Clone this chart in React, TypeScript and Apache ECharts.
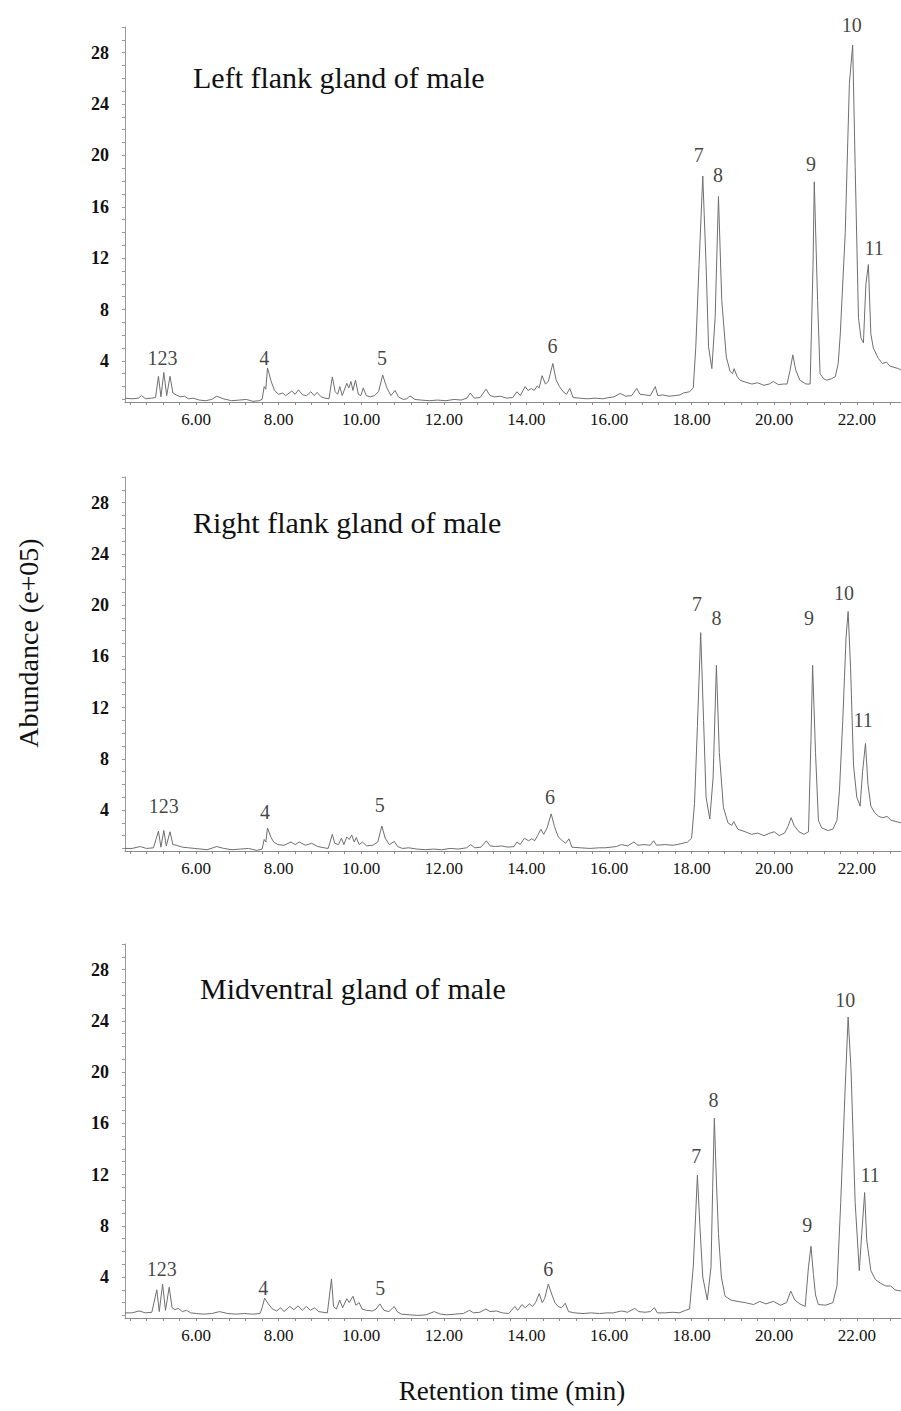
import React, { useEffect, useRef } from "react";
import * as echarts from "echarts";

// ---- tick labels ----
const xTickLabels = [6, 8, 10, 12, 14, 16, 18, 20, 22];
const yTickLabels = [4, 8, 12, 16, 20, 24, 28];

// ---- panel titles ----
const panelTitles = ["Left flank gland of male", "Right flank gland of male", "Midventral gland of male"];
const peakNames = ["123", "4", "5", "6", "7", "8", "9", "10", "11"];

// ---- chromatogram traces: [retention time (min), abundance (e+05)] ----
const leftFlank: [number, number][] = [
  [4.28, 1.1], [4.45, 1.05], [4.6, 1.1], [4.68, 1.3], [4.78, 1.05], [4.92, 1.1], [5.02, 1.15],
  [5.09, 2.8], [5.15, 1.2], [5.22, 3.1], [5.29, 1.3], [5.37, 2.8], [5.44, 1.5], [5.52, 1.35], [5.62, 1.2], [5.72, 1.25],
  [5.82, 1.05], [5.93, 1.1], [6.08, 0.95], [6.23, 0.9], [6.38, 1.0], [6.5, 1.25], [6.66, 1.05], [6.86, 0.9], [7.05, 0.95],
  [7.22, 1.0], [7.38, 0.85], [7.52, 0.9], [7.6, 1.0],
  [7.65, 2.0], [7.69, 1.8], [7.73, 3.45], [7.82, 2.4], [7.9, 1.7], [8.0, 1.4], [8.1, 1.5], [8.17, 1.3], [8.32, 1.65],
  [8.4, 1.4], [8.48, 1.75], [8.58, 1.35], [8.68, 1.3], [8.78, 1.6], [8.86, 1.3], [8.93, 1.55], [9.03, 1.2], [9.12, 1.1], [9.22, 1.05],
  [9.3, 2.75], [9.37, 1.6], [9.43, 1.4], [9.48, 2.0], [9.54, 1.3], [9.65, 2.25], [9.7, 1.9], [9.75, 2.4], [9.8, 1.7],
  [9.86, 2.5], [9.93, 1.4], [9.99, 1.3], [10.05, 1.9], [10.12, 1.3], [10.22, 1.2], [10.32, 1.3], [10.42, 1.6],
  [10.52, 2.9], [10.62, 1.9], [10.72, 1.3], [10.82, 1.7], [10.9, 1.2], [11.02, 1.0], [11.1, 1.05], [11.18, 1.27], [11.3, 1.0],
  [11.45, 0.95], [11.65, 0.9], [11.85, 0.95], [12.05, 0.9], [12.25, 1.0], [12.42, 0.95], [12.56, 1.1], [12.64, 1.5],
  [12.74, 1.1], [12.88, 1.15], [13.02, 1.8], [13.12, 1.3], [13.22, 1.2], [13.37, 1.25], [13.52, 1.1], [13.67, 1.15],
  [13.77, 1.6], [13.85, 1.3], [13.97, 2.0], [14.04, 1.7], [14.12, 1.85], [14.19, 1.7], [14.26, 2.05], [14.31, 1.9],
  [14.38, 2.85], [14.46, 2.2], [14.53, 2.4],
  [14.64, 3.8], [14.72, 2.5], [14.8, 2.0], [14.89, 1.6], [14.97, 1.4], [15.05, 1.85], [15.13, 1.15], [15.28, 1.1],
  [15.48, 1.05], [15.66, 1.1], [15.85, 1.05],
  [16.0, 1.15], [16.12, 1.2], [16.27, 1.47], [16.4, 1.25], [16.55, 1.3], [16.67, 1.86], [16.75, 1.4], [16.88, 1.35],
  [17.0, 1.3], [17.12, 2.0], [17.18, 1.3], [17.3, 1.35], [17.45, 1.25], [17.6, 1.3], [17.72, 1.35], [17.8, 1.5],
  [17.95, 1.6], [18.04, 1.9], [18.1, 5.0], [18.18, 11.5], [18.27, 18.4], [18.35, 11.5], [18.41, 5.1], [18.49, 3.4],
  [18.57, 7.4], [18.65, 16.8], [18.73, 8.7], [18.84, 4.3], [18.93, 3.2], [18.99, 3.0], [19.03, 3.4], [19.1, 2.8],
  [19.17, 2.5], [19.3, 2.35], [19.46, 2.2], [19.6, 2.3], [19.75, 2.1], [19.88, 2.2], [19.98, 2.4], [20.1, 2.15],
  [20.22, 2.2], [20.31, 2.2], [20.38, 3.2], [20.45, 4.47], [20.52, 3.3], [20.62, 2.5], [20.77, 2.2], [20.87, 2.2],
  [20.94, 11.5], [20.97, 17.95], [21.05, 8.7], [21.11, 3.0], [21.2, 2.6], [21.27, 2.5], [21.38, 2.6], [21.48, 2.77],
  [21.55, 3.8], [21.6, 6.1], [21.72, 14.0], [21.82, 25.6], [21.9, 28.6], [21.96, 19.15], [22.04, 7.4], [22.1, 5.8],
  [22.16, 5.4], [22.22, 10.0], [22.28, 11.5], [22.34, 6.1], [22.4, 5.0], [22.52, 4.2], [22.62, 3.8], [22.72, 3.9],
  [22.8, 3.6], [22.9, 3.5], [23.01, 3.4], [23.07, 3.3],
];

const rightFlank: [number, number][] = [
  [4.28, 1.0], [4.45, 1.0], [4.65, 1.15], [4.8, 1.0], [4.97, 1.05],
  [5.09, 2.35], [5.15, 1.1], [5.22, 2.4], [5.28, 1.2], [5.37, 2.3], [5.44, 1.3], [5.52, 1.25], [5.67, 1.1], [5.82, 1.05],
  [5.97, 1.0], [6.12, 0.95], [6.27, 0.9], [6.5, 1.15], [6.67, 1.0], [6.87, 0.9], [7.07, 0.95], [7.27, 1.0], [7.47, 0.85], [7.6, 0.95],
  [7.65, 1.7], [7.69, 1.5], [7.73, 2.6], [7.81, 1.9], [7.88, 1.5], [7.98, 1.3], [8.13, 1.25], [8.3, 1.5], [8.4, 1.3],
  [8.5, 1.5], [8.65, 1.25], [8.8, 1.4], [8.95, 1.15], [9.1, 1.05], [9.2, 1.0],
  [9.3, 2.1], [9.36, 1.4], [9.45, 1.3], [9.52, 1.8], [9.58, 1.3], [9.65, 1.9], [9.71, 1.7], [9.77, 2.05], [9.83, 1.5],
  [9.88, 1.85], [9.95, 1.3], [10.03, 1.5], [10.13, 1.2], [10.28, 1.25], [10.4, 1.5],
  [10.5, 2.75], [10.58, 1.8], [10.68, 1.3], [10.8, 1.55], [10.88, 1.15], [11.0, 1.0], [11.15, 1.05], [11.35, 0.95],
  [11.55, 0.9], [11.75, 0.95], [11.95, 0.9], [12.15, 1.0], [12.35, 0.95], [12.55, 1.05], [12.65, 1.3], [12.75, 1.05],
  [12.9, 1.1], [13.03, 1.6], [13.12, 1.2], [13.25, 1.15], [13.4, 1.2], [13.55, 1.1], [13.7, 1.15],
  [13.77, 1.5], [13.85, 1.3], [13.95, 1.8], [14.05, 1.6], [14.13, 1.75], [14.2, 1.6], [14.27, 2.0], [14.35, 2.5],
  [14.42, 2.1], [14.5, 2.6],
  [14.6, 3.7], [14.68, 2.7], [14.77, 1.9], [14.87, 1.6], [14.95, 1.4], [15.03, 1.75], [15.1, 1.1], [15.3, 1.05],
  [15.55, 1.0], [15.75, 1.05], [15.9, 1.05],
  [16.05, 1.1], [16.18, 1.15], [16.3, 1.3], [16.45, 1.2], [16.6, 1.5], [16.7, 1.25], [16.85, 1.3], [17.0, 1.25],
  [17.08, 1.6], [17.15, 1.25], [17.35, 1.3], [17.55, 1.25], [17.72, 1.35], [17.9, 1.5], [18.0, 1.8], [18.07, 4.5],
  [18.14, 10.5], [18.22, 17.85], [18.29, 11.0], [18.35, 5.0], [18.44, 3.3], [18.52, 6.5], [18.6, 15.3], [18.67, 8.5],
  [18.77, 4.2], [18.88, 3.0], [18.97, 2.8], [19.02, 3.1], [19.12, 2.5], [19.3, 2.3], [19.45, 2.1], [19.6, 2.2],
  [19.75, 2.0], [19.9, 2.2], [20.0, 2.3], [20.12, 2.0], [20.25, 2.2], [20.33, 2.7], [20.41, 3.4], [20.48, 2.8],
  [20.6, 2.3], [20.72, 2.1], [20.83, 2.3], [20.89, 9.5], [20.93, 15.3], [21.0, 8.5], [21.07, 3.2], [21.15, 2.6],
  [21.3, 2.4], [21.42, 2.5], [21.52, 3.2], [21.58, 5.5], [21.66, 11.0], [21.74, 17.5], [21.79, 19.5], [21.85, 15.0],
  [21.92, 7.5], [22.0, 5.0], [22.08, 4.3], [22.14, 7.0], [22.21, 9.2], [22.27, 6.0], [22.34, 4.3], [22.43, 3.8],
  [22.53, 3.5], [22.63, 3.4], [22.73, 3.5], [22.83, 3.2], [22.95, 3.1], [23.07, 3.0],
];

const midventral: [number, number][] = [
  [4.28, 1.2], [4.45, 1.2], [4.62, 1.35], [4.78, 1.2], [4.93, 1.25],
  [5.05, 3.0], [5.11, 1.3], [5.19, 3.45], [5.26, 1.4], [5.35, 3.2], [5.42, 1.6], [5.49, 1.45], [5.57, 1.55], [5.67, 1.3],
  [5.77, 1.4], [5.87, 1.2], [6.02, 1.15], [6.18, 1.1], [6.38, 1.15], [6.57, 1.3], [6.77, 1.15], [6.97, 1.1], [7.17, 1.15],
  [7.37, 1.1], [7.55, 1.15],
  [7.6, 1.6], [7.66, 2.35], [7.75, 1.9], [7.85, 1.5], [7.95, 1.35], [8.05, 1.6], [8.13, 1.3], [8.27, 1.7], [8.37, 1.45],
  [8.47, 1.75], [8.57, 1.4], [8.67, 1.7], [8.77, 1.4], [8.87, 1.6], [8.97, 1.3], [9.07, 1.25], [9.18, 1.2],
  [9.28, 3.85], [9.33, 1.7], [9.4, 1.5], [9.48, 2.2], [9.55, 1.6], [9.65, 2.3], [9.71, 2.0], [9.8, 2.5], [9.87, 1.8],
  [9.95, 2.0], [10.02, 1.5], [10.12, 1.4], [10.27, 1.35], [10.36, 1.5],
  [10.45, 1.9], [10.55, 1.4], [10.67, 1.3], [10.8, 1.7], [10.87, 1.3], [10.97, 1.1], [11.17, 1.05], [11.37, 1.0],
  [11.57, 1.05], [11.77, 1.3], [11.92, 1.1], [12.07, 1.05], [12.27, 1.1], [12.47, 1.15], [12.62, 1.4], [12.72, 1.2],
  [12.87, 1.25], [13.02, 1.5], [13.12, 1.3], [13.27, 1.35], [13.42, 1.2], [13.57, 1.15],
  [13.72, 1.7], [13.79, 1.4], [13.89, 1.85], [13.97, 1.6], [14.07, 1.9], [14.15, 1.7], [14.22, 2.0], [14.31, 2.7],
  [14.38, 2.0], [14.44, 2.3],
  [14.53, 3.45], [14.62, 2.6], [14.69, 2.0], [14.77, 1.7], [14.85, 1.6], [14.94, 1.95], [15.02, 1.3], [15.17, 1.2],
  [15.37, 1.15], [15.57, 1.2], [15.77, 1.15], [15.95, 1.2],
  [16.1, 1.2], [16.3, 1.35], [16.45, 1.25], [16.62, 1.55], [16.72, 1.3], [16.87, 1.25], [17.0, 1.3], [17.1, 1.6],
  [17.17, 1.2], [17.35, 1.2], [17.55, 1.25], [17.7, 1.2], [17.85, 1.4], [17.95, 1.5], [18.04, 4.8], [18.1, 9.0],
  [18.14, 11.95], [18.2, 8.0], [18.27, 4.0], [18.38, 2.2], [18.47, 4.8], [18.51, 11.0], [18.55, 16.4], [18.6, 11.5],
  [18.65, 7.4], [18.72, 4.0], [18.81, 2.5], [18.95, 2.2], [19.1, 2.1], [19.3, 2.0], [19.5, 1.85], [19.65, 2.1],
  [19.8, 1.9], [19.98, 2.1], [20.15, 1.8], [20.3, 2.0], [20.4, 2.9], [20.5, 2.2], [20.62, 1.9], [20.75, 1.7],
  [20.83, 4.8], [20.89, 6.4], [20.95, 4.2], [21.0, 2.6], [21.07, 1.85], [21.25, 1.8], [21.42, 2.0], [21.52, 3.3],
  [21.61, 9.8], [21.72, 18.9], [21.79, 24.3], [21.86, 20.2], [21.96, 9.8], [22.06, 4.5], [22.12, 7.4], [22.19, 10.6],
  [22.24, 6.9], [22.34, 4.5], [22.45, 3.8], [22.58, 3.5], [22.7, 3.3], [22.82, 3.3], [22.92, 3.0], [23.07, 2.9],
];

// ---- peak label anchor positions [time, abundance] per panel ----
const leftFlankLabels: [number, number][] = [
  [5.19, 4.23], [7.65, 4.23], [10.5, 4.23], [14.63, 5.17], [18.17, 20.05], [18.64, 18.5], [20.89, 19.35], [21.88, 30.19], [22.42, 12.8],
];
const rightFlankLabels: [number, number][] = [
  [5.22, 4.32], [7.67, 3.85], [10.45, 4.39], [14.57, 5.0], [18.13, 20.1], [18.6, 19.0], [20.84, 19.0], [21.69, 20.97], [22.15, 11.0],
];
const midventralLabels: [number, number][] = [
  [5.17, 4.6], [7.63, 3.12], [10.46, 3.12], [14.53, 4.6], [18.11, 13.41], [18.53, 17.84], [20.8, 8.07], [21.72, 25.66], [22.32, 11.98],
];

const traces = [leftFlank, rightFlank, midventral];
const labelSets = [leftFlankLabels, rightFlankLabels, midventralLabels];

const X_MIN = 4.28;
const X_MAX = 23.07;
const Y_MIN = 0.8;
const Y_MAX = 30;
const SERIF = "'Liberation Serif', 'Times New Roman', serif";

const gridTops = [27, 477, 944];
const gridHeights = [375, 374, 374];
const titlePos = [
  [193, 77],
  [193, 522],
  [200, 988],
];

const xMinorTicks: number[] = [];
for (let i = 0; i <= 47; i++) {
  const v = Math.round((4.4 + i * 0.4) * 100) / 100;
  if (v <= X_MAX) xMinorTicks.push(v);
}
const yMinorTicks: number[] = [];
for (let i = 1; i <= 30; i++) yMinorTicks.push(i);

export default function App() {
  const ref = useRef<HTMLDivElement>(null);

  useEffect(() => {
    if (!ref.current) return;
    const chart = echarts.init(ref.current, undefined, { renderer: "svg" });

    const grid = gridTops.map((top, i) => ({ left: 125, top, width: 776, height: gridHeights[i] }));

    const xAxis = gridTops.map((_, i) => ({
      type: "value",
      gridIndex: i,
      min: X_MIN,
      max: X_MAX,
      axisLine: { show: true, lineStyle: { color: "#8a8a8a", width: 1 } },
      axisTick: { show: true, customValues: xMinorTicks, length: 3, lineStyle: { color: "#8a8a8a" } },
      axisLabel: {
        customValues: xTickLabels,
        formatter: (v: number) => v.toFixed(2),
        fontFamily: SERIF,
        fontSize: 17,
        color: "#111",
        margin: 9,
      },
      splitLine: { show: false },
    }));

    const yAxis = gridTops.map((_, i) => ({
      type: "value",
      gridIndex: i,
      min: Y_MIN,
      max: Y_MAX,
      axisLine: { show: true, lineStyle: { color: "#9a9a9a", width: 1 } },
      axisTick: { show: true, customValues: yMinorTicks, length: 3, lineStyle: { color: "#9a9a9a" } },
      axisLabel: {
        customValues: yTickLabels,
        fontFamily: SERIF,
        fontSize: 18,
        fontWeight: "bold",
        color: "#111",
        margin: 16,
      },
      splitLine: { show: false },
    }));

    const series: any[] = [];
    traces.forEach((data, i) => {
      series.push({
        type: "line",
        xAxisIndex: i,
        yAxisIndex: i,
        data,
        showSymbol: false,
        symbol: "none",
        silent: true,
        lineStyle: { color: "#6f6f6f", width: 1 },
      });
      series.push({
        type: "scatter",
        xAxisIndex: i,
        yAxisIndex: i,
        clip: false,
        silent: true,
        symbolSize: 1,
        itemStyle: { color: "rgba(0,0,0,0)" },
        data: labelSets[i].map((p, k) => ({ name: peakNames[k], value: p })),
        label: {
          show: true,
          position: "inside",
          formatter: "{b}",
          fontFamily: SERIF,
          fontSize: 20,
          color: "#111",
        },
      });
    });

    const graphic: any[] = panelTitles.map((t, i) => ({
      type: "text",
      x: titlePos[i][0],
      y: titlePos[i][1],
      style: {
        text: t,
        font: `30px ${SERIF}`,
        fill: "#111",
        textAlign: "left",
        textVerticalAlign: "middle",
      },
    }));
    graphic.push({
      type: "text",
      x: 28,
      y: 643,
      rotation: Math.PI / 2,
      style: {
        text: "Abundance (e+05)",
        font: `28px ${SERIF}`,
        fill: "#111",
        textAlign: "center",
        textVerticalAlign: "middle",
      },
    });
    graphic.push({
      type: "text",
      x: 512,
      y: 1391,
      style: {
        text: "Retention time (min)",
        font: `27px ${SERIF}`,
        fill: "#111",
        textAlign: "center",
        textVerticalAlign: "middle",
      },
    });

    chart.setOption({
      animation: false,
      backgroundColor: "#ffffff",
      grid,
      xAxis,
      yAxis,
      series,
      graphic,
    });

    return () => chart.dispose();
  }, []);

  return (
    <div
      ref={ref}
      style={{ position: "absolute", left: 0, top: 0, width: 901, height: 1411, background: "#fff" }}
    />
  );
}
